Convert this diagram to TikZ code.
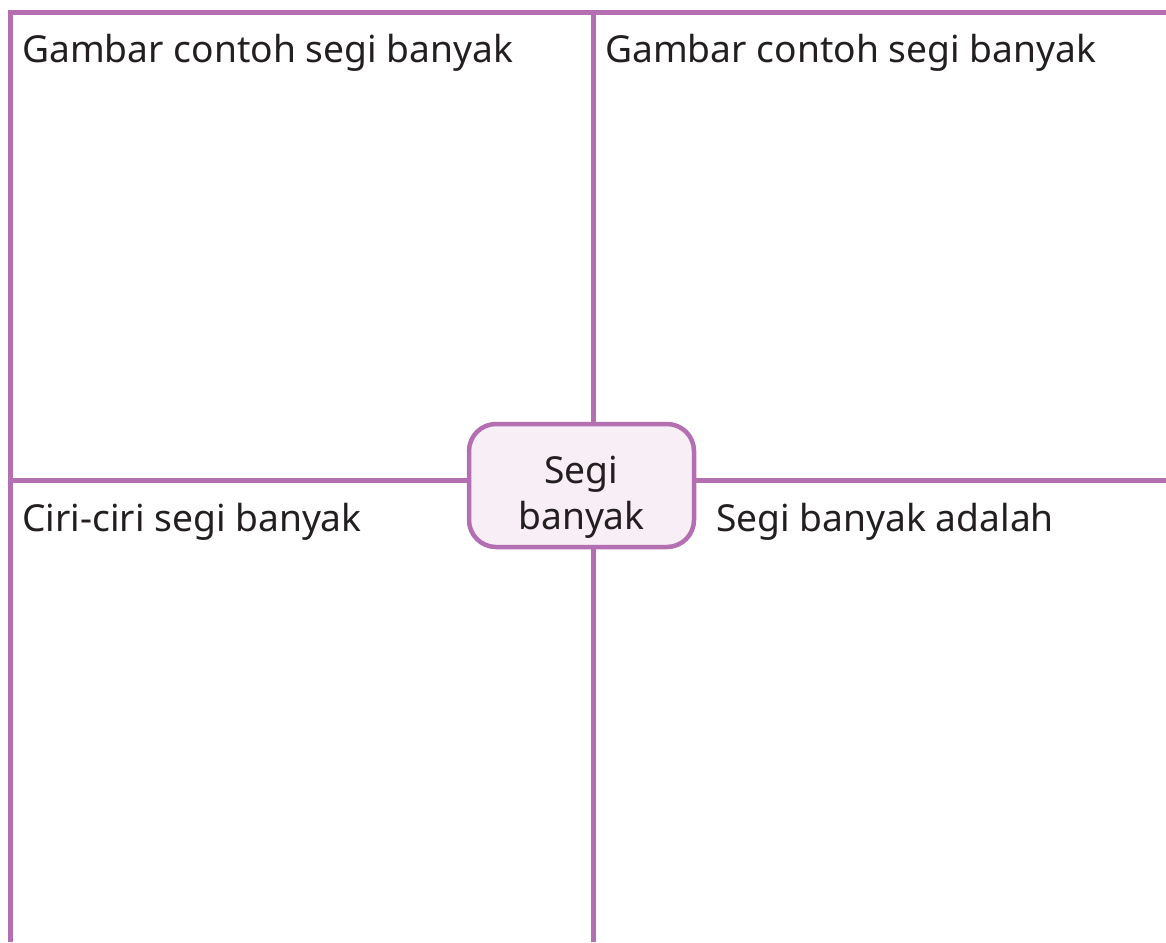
\documentclass[tikz,border=0pt]{standalone}
\usepackage{fontspec}
\setmainfont{Noto Sans}
\definecolor{lineP}{HTML}{B36FB2}
\definecolor{boxF}{HTML}{F7EEF6}
\definecolor{txt}{HTML}{231F20}
\tikzset{
  frame/.style={draw=lineP, line width=5pt},
  lbl/.style={anchor=base west, inner sep=0pt, text=txt, font=\fontsize{37.2}{44}\selectfont},
  center/.style={draw=lineP, line width=4.5pt, fill=boxF, rounded corners=27pt, minimum width=225pt, minimum height=123pt, text=txt, align=center, font=\fontsize{37.2}{46}\selectfont, inner sep=0pt}
}
\begin{document}
\begin{tikzpicture}[x=1pt,y=-1pt]
\useasboundingbox (0,0) rectangle (1166,942);
\coordinate (tl) at (10,12.5);
\coordinate (tr) at (1166,12.5);
\coordinate (bl) at (10,942);
\coordinate (mt) at (593,12.5);
\coordinate (mb) at (593,942);
\coordinate (ml) at (10,480);
\coordinate (mr) at (1166,480);
\draw[frame] (tr) -- (tl) -- (bl);
\draw[frame] (mt) -- (mb);
\draw[frame] (ml) -- (mr);
\node[center] (c) at (581.5,485.5) {};
\node[anchor=base, inner sep=0pt, text=txt, font=\fontsize{37.2}{46}\selectfont] (c1) at (581.5,483) {Segi};
\node[anchor=base, inner sep=0pt, text=txt, font=\fontsize{37.2}{46}\selectfont] (c2) at (581.5,529) {banyak};
\node[lbl] (t1) at (22,63) {Gambar contoh segi banyak};
\node[lbl] (t2) at (605,63) {Gambar contoh segi banyak};
\node[lbl] (t3) at (22,531) {Ciri-ciri segi banyak};
\node[lbl] (t4) at (716,531) {Segi banyak adalah};
\end{tikzpicture}
\end{document}
